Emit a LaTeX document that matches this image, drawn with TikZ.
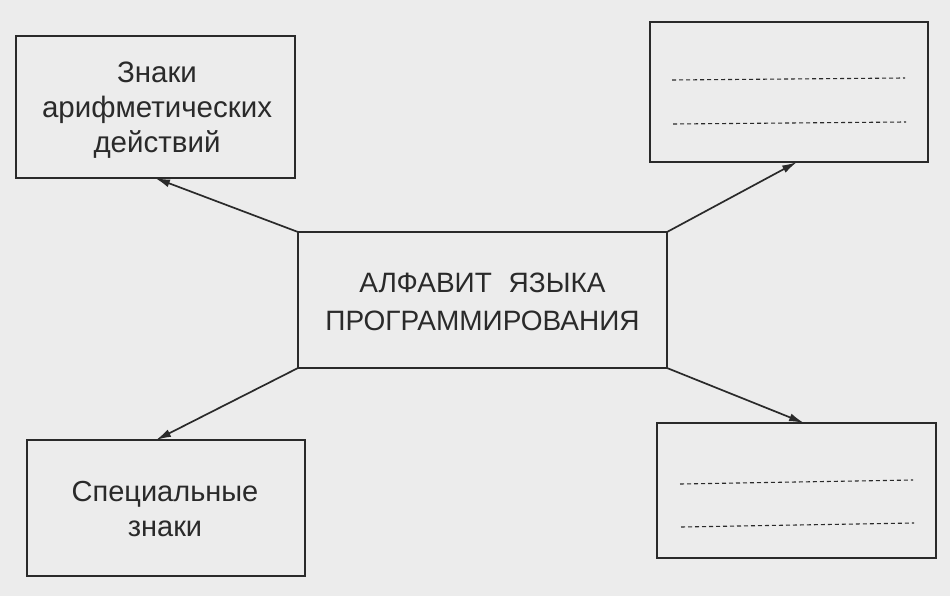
\documentclass[tikz,border=0pt]{standalone}
\usepackage{fontspec}
\setmainfont{Liberation Sans}
\usetikzlibrary{arrows.meta}
\definecolor{paper}{HTML}{ECECEC}
\definecolor{ink}{HTML}{2A2A2A}
\begin{document}
\begin{tikzpicture}[x=1pt,y=-1pt,
  box/.style={draw=ink,line width=1.9pt,fill=paper,inner sep=0pt},
  lbl/.style={text=ink,font=\fontsize{29.5}{35}\selectfont,align=center},
  conn/.style={draw=ink,line width=1.7pt,-{Latex[length=15pt,width=8pt]}},
  blank/.style={draw=ink,line width=1.1pt,dash pattern=on 4pt off 3pt}]
\fill[paper] (0,0) rectangle (950,596);
\useasboundingbox (0,0) rectangle (950,596);
% boxes
\draw[box] (16,36) rectangle (295,178);
\draw[box] (650,22) rectangle (928,162);
\draw[box] (298,232) rectangle (667,368);
\draw[box] (27,440) rectangle (305,576);
\draw[box] (657,423) rectangle (936,558);
\coordinate (cTL) at (298,232);
\coordinate (cTR) at (667,232);
\coordinate (cBL) at (298,368);
\coordinate (cBR) at (667,368);
\coordinate (tTL) at (155,178);
\coordinate (tTR) at (797,162);
\coordinate (tBL) at (156,440);
\coordinate (tBR) at (804,423);
% labels
\node[lbl] (arith) at (157,110) {Знаки\\арифметических\\действий};
\node[lbl,font=\fontsize{28}{38}\selectfont] (alpha) at (482.5,302) {АЛФАВИТ\hspace{0.6em}ЯЗЫКА\\ПРОГРАММИРОВАНИЯ};
\node[lbl,font=\fontsize{29}{35}\selectfont] (spec) at (165,509) {Специальные\\знаки};
% dashed blanks
\coordinate (d1a) at (672,80); \coordinate (d1b) at (905,78);
\coordinate (d2a) at (673,124); \coordinate (d2b) at (906,122);
\coordinate (d3a) at (680,484); \coordinate (d3b) at (913,480);
\coordinate (d4a) at (681,527); \coordinate (d4b) at (914,523);
\draw[blank] (d1a) -- (d1b);
\draw[blank] (d2a) -- (d2b);
\draw[blank] (d3a) -- (d3b);
\draw[blank] (d4a) -- (d4b);
% connectors
\draw[conn] (cTL) -- (tTL);
\draw[conn] (cTR) -- (tTR);
\draw[conn] (cBL) -- (tBL);
\draw[conn] (cBR) -- (tBR);
\end{tikzpicture}
\end{document}
